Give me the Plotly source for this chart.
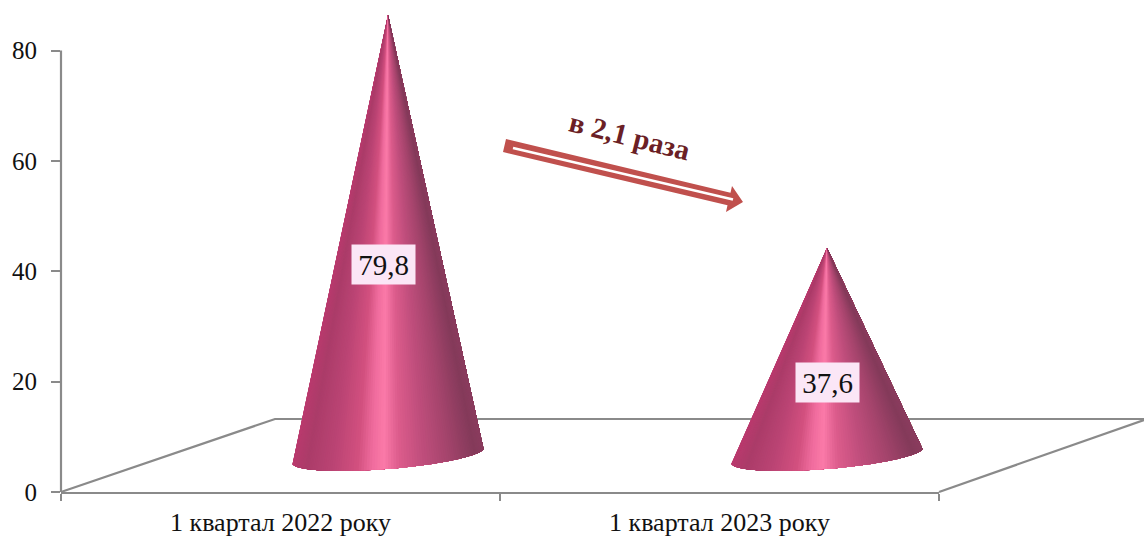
import math
import plotly.graph_objects as go

categories = ["1 квартал 2022 року", "1 квартал 2023 року"]
values = [79.8, 37.6]
value_labels = ["79,8", "37,6"]
y_ticks = [0, 20, 40, 60, 80]
ratio_label = "в 2,1 раза"

W, H = 1144, 538
X0, X2, XR = 61, 939, 1144
Y0, Y80 = 492, 50.5
PX_X = (X2 - X0) / 2
PX_Y = (Y0 - Y80) / 80
GRAY = "#8a8a8a"
FONT = "Liberation Serif"

stops = [(0, "#bb3a6e"), (.1, "#ab3c69"), (.25, "#bb4474"), (.38, "#d2507f"), (.46, "#f06c9e"),
         (.52, "#fb7aa8"), (.6, "#dc5c8c"), (.72, "#c04e7c"), (.85, "#a4446c"), (.97, "#843a5a"), (1, "#8a3c5e")]


def rgb(h):
    return [int(h[i:i + 2], 16) for i in (1, 3, 5)]


def shade(f):
    for (a, ca), (b, cb) in zip(stops, stops[1:]):
        if f <= b:
            k = (f - a) / (b - a)
            ra, rb = rgb(ca), rgb(cb)
            return "rgb(%d,%d,%d)" % tuple(round(u + (v - u) * k) for u, v in zip(ra, rb))
    return stops[-1][1]


DEPTH_X, DEPTH_Y = 107.5, 36.5   # half floor depth in pixels
AX, AY = 95.5, -6.5              # base ellipse axis
BX, BY = -8.0, 14.0
N = 110

fig = go.Figure()
for i, v in enumerate(values):
    cx = (i + 0.5) + DEPTH_X / PX_X
    cy = DEPTH_Y / PX_Y
    arc = []
    for j in range(N + 1):
        t = math.pi * (1 - j / N)
        dx = AX * math.cos(t) + BX * math.sin(t)
        dy = AY * math.cos(t) + BY * math.sin(t)
        arc.append((cx + dx / PX_X, cy - dy / PX_Y))
    for k in range(N):
        # each band paints everything to its right; the next band overpaints it, leaving no seams
        rest = arc[k:]
        f = 0.5 + math.cos(math.pi * (1 - (k + .5) / N)) / 2
        c = shade(f)
        fig.add_trace(go.Scatter(
            x=[cx] + [p[0] for p in rest] + [cx], y=[cy + v] + [p[1] for p in rest] + [cy + v],
            mode="lines", fill="toself", fillcolor=c, line=dict(color=c, width=0),
            hoverinfo="skip", showlegend=False))


def px(x):
    return (x - X0) / (XR - X0)


def py(y):
    return (Y0 - y) / Y0


def path(points, close=False):
    d = "M" + " L".join(f"{px(x):.5f},{py(y):.5f}" for x, y in points)
    return d + (" Z" if close else "")


shapes = [
    dict(type="path", xref="paper", yref="paper", layer="below", line=dict(color=GRAY, width=2.2),
         path=path([(X0, Y0), (275, 419), (XR, 419)])),
    dict(type="path", xref="paper", yref="paper", layer="below", line=dict(color=GRAY, width=2.2),
         path=path([(X2, Y0), (XR, 420)])),
    dict(type="line", xref="paper", yref="y", x0=0, x1=0, y0=0, y1=y_ticks[-1], layer="below",
         line=dict(color=GRAY, width=2.2)),
    dict(type="path", xref="paper", yref="paper", fillcolor="#C0504D", line=dict(width=0),
         path=path([(506, 139), (730.5, 192.7), (732, 186), (743, 202), (726, 212), (727.5, 205.3), (503, 152)], True)),
    dict(type="line", xref="paper", yref="paper", x0=px(513), y0=py(148), x1=px(733), y1=py(199.5),
         line=dict(color="white", width=2.5)),
]

annotations = []
for i, (v, lab) in enumerate(zip(values, value_labels)):
    annotations.append(dict(
        x=i + 0.5 + DEPTH_X / PX_X, y=v / 2 + 1, xref="x", yref="y", text=lab, showarrow=False,
        xanchor="center", yanchor="middle",
        xshift=-5 if i == 0 else 0, yshift=2 if i == 0 else 0, width=63, height=39, bgcolor="#FBE6F6",
        borderpad=0, font=dict(family=FONT, size=29, color="#111111")))
annotations.append(dict(
    x=px(630), y=py(136), xref="paper", yref="paper", text=f"<b>{ratio_label}</b>", showarrow=False,
    xanchor="center", yanchor="middle",
    textangle=14, font=dict(family=FONT, size=29, color="#6B1F26")))
fig.update_layout(
    width=W, height=H, autosize=False, paper_bgcolor="white", plot_bgcolor="white",
    margin=dict(l=X0, r=0, t=0, b=H - Y0, autoexpand=False), showlegend=False, shapes=shapes, annotations=annotations,
    xaxis=dict(domain=[0, (X2 - X0) / (XR - X0)], range=[0, 2], tickmode="array", tickvals=[0.5, 1.5],
               ticktext=categories, ticks="", showline=True, linecolor=GRAY, linewidth=2, showgrid=False,
               automargin=False, zeroline=False, ticklabelstandoff=6,
               tickfont=dict(family=FONT, size=26, color="#111111"),
               minor=dict(tickmode="array", tickvals=[0, 1, 2], ticks="outside", ticklen=7, tickwidth=2,
                          tickcolor=GRAY, showgrid=False)),
    yaxis=dict(range=[0, Y0 / PX_Y], tickmode="array", tickvals=y_ticks, ticks="outside", ticklen=9, tickwidth=2,
               tickcolor=GRAY, showline=False, showgrid=False, automargin=False, zeroline=False, ticklabelstandoff=9,
               tickfont=dict(family=FONT, size=25, color="#111111")),
)
fig.write_html("out.html", config={"displayModeBar": False},
               post_script="document.body.style.margin='0';document.documentElement.style.overflow='hidden';")
